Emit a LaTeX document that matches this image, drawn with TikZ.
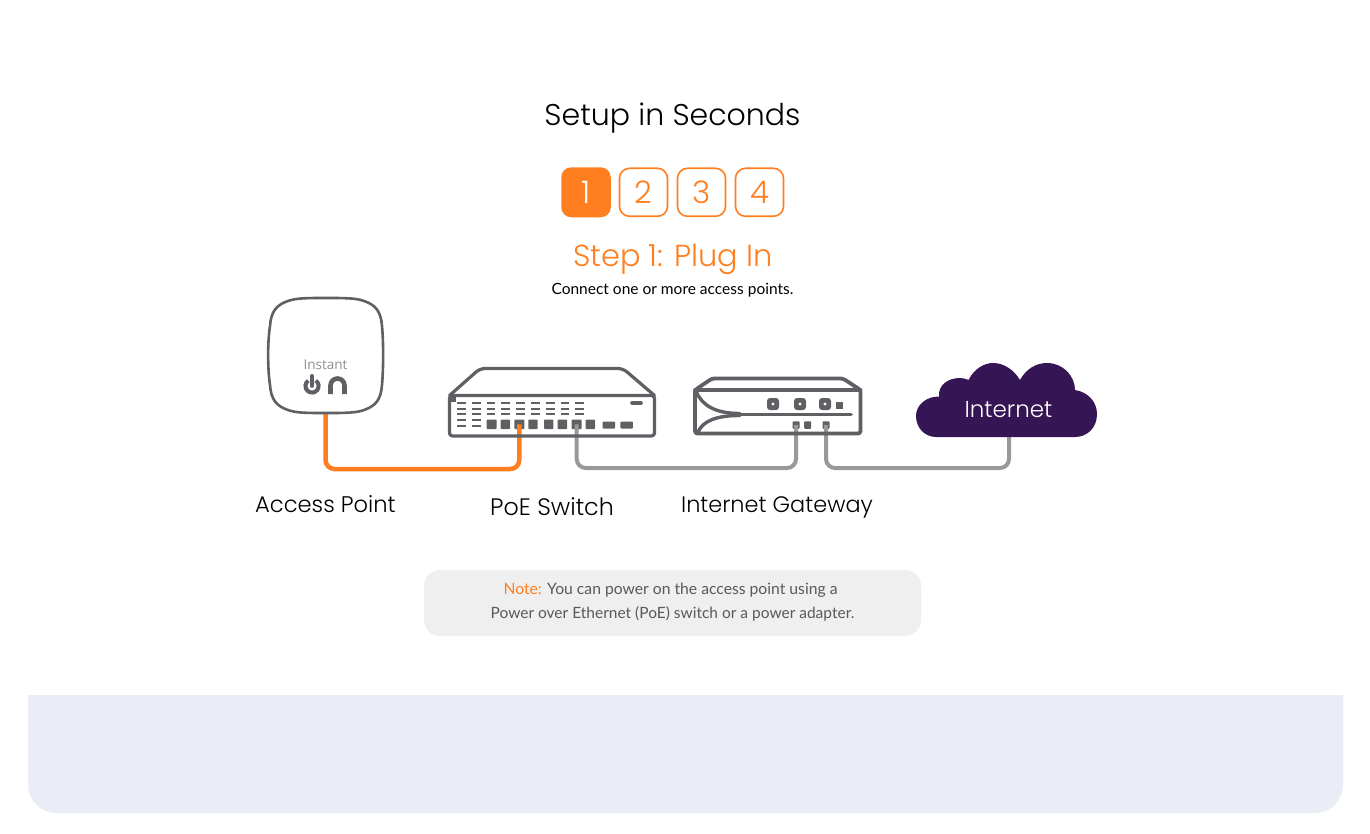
\documentclass[tikz,border=0pt]{standalone}
\usepackage{fontspec}
\setmainfont{Poppins}[UprightFont=* Light,BoldFont=* Medium]
\newfontfamily\bodyfont{Lato}
\newfontfamily\logofont{Open Sans}
\definecolor{hpeorange}{HTML}{FF7F20}
\definecolor{devgray}{HTML}{5F6064}
\definecolor{wiregray}{HTML}{999999}
\definecolor{cloudpurple}{HTML}{361554}
\definecolor{panelblue}{HTML}{EAEDF5}
\definecolor{notegray}{HTML}{EFEFEF}
\definecolor{notetext}{HTML}{58595B}
\tikzset{
  stepbox/.style={draw=hpeorange,line width=1.6,rounded corners=10,minimum width=48,minimum height=48,inner sep=0,text=hpeorange,font=\fontsize{31}{31}\selectfont},
  stepcurrent/.style={stepbox,fill=hpeorange,text=white,minimum width=49.5,minimum height=50,draw=none},
  basetext/.style={inner sep=0,anchor=base},
  devlabel/.style={basetext,text=black},
  outline/.style={draw=devgray,line width=3.2,line join=round,line cap=round},
  vent/.style={draw=devgray,line width=2.2},
  port/.style={fill=devgray,inner sep=0,rounded corners=.8},
  wire/.style={line width=4,rounded corners=9,line join=round},
  anchorbox/.style={inner sep=0,draw=none}
}
\begin{document}
\begin{tikzpicture}[x=1pt,y=-1pt]
\useasboundingbox (0,0) rectangle (1370,834);
\fill[white] (0,0) rectangle (1370,834);
% bottom panel
\fill[panelblue] (28,695) -- (1343,695) -- (1343,785) arc[start angle=0,end angle=90,radius=28] -- (56,813) arc[start angle=90,end angle=180,radius=28] -- cycle;
% header
\node[basetext,font=\fontsize{30}{32}\selectfont,text=black] (title) at (672.5,126) {Setup in Seconds};
\node[stepcurrent] (s1) at (586,192.3) {\raisebox{-1.5pt}{1}};
\node[stepbox] (s2) at (643.5,192.3) {\raisebox{-1.5pt}{2}};
\node[stepbox] (s3) at (701.5,192.3) {\raisebox{-1.5pt}{3}};
\node[stepbox] (s4) at (759.5,192.3) {\raisebox{-1.5pt}{4}};
\node[basetext,text=hpeorange,font=\fontsize{30.4}{32}\selectfont] (steptitle) at (673,266) {Step 1: Plug In};
\node[basetext,text=black,font=\bodyfont\fontsize{15.5}{18}\selectfont] (sub) at (672.5,294.5) {Connect one or more access points.};
% anchors for devices
\node[anchorbox,minimum width=115,minimum height=115] (ap) at (325.5,355.5) {};
\node[anchorbox,minimum width=206,minimum height=68] (switch) at (552,402) {};
\node[anchorbox,minimum width=169,minimum height=58] (gateway) at (777.5,406) {};
% switch ports
\foreach \a/\b [count=\i] in {486.7/496.7,500.7/510,514.3/524.3,528.3/537.7,544/553.3,557.7/567,571.7/581.7,585.7/595}
  \node[port,minimum width=\b-\a,minimum height=9.5] (sp\i) at ({(\a+\b)/2},424.3) {};
\node[port,minimum width=12.5,minimum height=7] (sp9) at (608.8,425) {};
\node[port,minimum width=12.5,minimum height=7] (sp10) at (626.7,425) {};
\node[port,minimum width=7,minimum height=7.5] (gp1) at (796,425) {};
\node[port,minimum width=7,minimum height=7.5] (gp2) at (807.7,425) {};
\node[port,minimum width=7,minimum height=7.5] (gp3) at (826,425) {};
% bus levels
\coordinate (busa) at (0,469);
\coordinate (busb) at (0,468);
\coordinate (cloudfoot) at (1009,436);
% connectors
\draw[wire,hpeorange,line width=4.5] (ap.south) -- (ap.south |- busa) -- (sp3.center |- busa) -- (sp3.center);
\draw[wire,wiregray] (sp7.center) -- (sp7.center |- busb) -- (gp1.center |- busb) -- (gp1.center);
\draw[wire,wiregray] (gp3.center) -- (gp3.center |- busb) -- (cloudfoot |- busb) -- (cloudfoot);
% access point
\draw[draw=devgray,line width=2.6,line join=round,fill=white] (326,298)
  .. controls (345,298) and (356,298) .. (364,301)
  .. controls (376,305) and (381,312) .. (382,326)
  .. controls (383.5,342) and (383.5,368) .. (382,385)
  .. controls (381,399) and (376,406) .. (364,410)
  .. controls (356,413) and (345,413) .. (326,413)
  .. controls (307,413) and (296,413) .. (288,410)
  .. controls (276,406) and (271,399) .. (270,385)
  .. controls (267.5,368) and (267.5,342) .. (270,326)
  .. controls (271,312) and (276,305) .. (288,301)
  .. controls (296,298) and (307,298) .. (326,298) -- cycle;
\node[inner sep=0,text=devgray!70,font=\logofont\fontsize{13.5}{14}\selectfont] (instant) at (325.5,365) {Instant};
\draw[draw=devgray,line width=4] (315.8,380.6) arc[start angle=-55,end angle=235,radius=6.6];
\draw[draw=devgray,line width=3.6,line cap=round] (312,375.8) -- (312,386);
\draw[draw=devgray,line width=4.6] (330.5,394) -- (330.5,385.5) arc[start angle=180,end angle=360,radius=7] -- (344.5,394);
% switch body
\draw[outline,rounded corners=3] (449.5,395.5) rectangle (654.5,436);
\draw[outline,rounded corners=5] (449.5,395.5) -- (480,368.5) -- (623,368.5) -- (654.5,395.5);
\fill[devgray] (449,395) rectangle (456,401.5);
\foreach \r in {403.3,409,414.3}
  \foreach \c in {0,...,8}
    \draw[vent] ({457+14.8*\c},\r) -- ++(8.7,0);
\foreach \r in {420.3,425.7}
  \foreach \c in {0,1}
    \draw[vent] ({457+14.8*\c},\r) -- ++(8.7,0);
\draw[draw=devgray,line width=3.6,line cap=round] (632,403) -- (641,403);
% gateway body
\draw[outline,line width=3.8,rounded corners=2.5] (695,390) -- (712,378.5) -- (843,378.5) -- (860.5,390) -- (860.5,433.5) -- (695,433.5) -- cycle;
\draw[outline,line width=3.8] (695,390) -- (860.5,390);
\draw[outline,line width=3.8] (737,414.5) -- (851,414.5);
\draw[outline,line width=3.4] (696,391) .. controls (702,406) and (716,413.5) .. (740,413.5);
\draw[outline,line width=3.4] (698,432) .. controls (703,421) and (716,415.5) .. (740,415.5);
\foreach \k in {773,800,825}{
  \fill[devgray,rounded corners=3] (\k-6,398) rectangle (\k+6,410);
  \fill[white] (\k,404) circle[radius=1.6];
}
\fill[devgray] (835.5,402) rectangle (842.5,409);
% cloud
\fill[cloudpurple] (936,437)
  .. controls (925,437) and (916,428) .. (916,416)
  .. controls (916,405) and (926,396.5) .. (939,396.5)
  .. controls (938,385) and (948,378) .. (960,378)
  .. controls (963,378) and (966,379) .. (968.5,380)
  .. controls (974,369) and (984,363) .. (993,363)
  .. controls (1004,363) and (1014,370) .. (1020,380)
  .. controls (1026,369) and (1036,363) .. (1047,363)
  .. controls (1063,363) and (1075,376) .. (1075,390)
  .. controls (1088,392) and (1097,402) .. (1097,414)
  .. controls (1097,428) and (1087,437) .. (1075,437) -- cycle;
\node[basetext,text=white,font=\fontsize{23}{24}\selectfont] (internet) at (1008.5,417.5) {Internet};
% labels
\node[devlabel,font=\fontsize{22.6}{24}\selectfont] (lap) at (325.5,512.5) {Access Point};
\node[devlabel,font=\fontsize{23.8}{24}\selectfont] (lsw) at (552,515.5) {PoE Switch};
\node[devlabel,font=\fontsize{22.4}{24}\selectfont] (lgw) at (777,512.5) {Internet Gateway};
% note
\node[fill=notegray,rounded corners=16,minimum width=497,minimum height=66,inner sep=0] (note) at (672.5,603) {};
\node[basetext,text=notetext,font=\bodyfont\fontsize{15.7}{24}\selectfont] (notea) at (670.5,594) {{\color{hpeorange}Note:} You can power on the access point using a};
\node[basetext,text=notetext,font=\bodyfont\fontsize{15.5}{24}\selectfont] (noteb) at (672.5,618) {Power over Ethernet (PoE) switch or a power adapter.};
\end{tikzpicture}
\end{document}
